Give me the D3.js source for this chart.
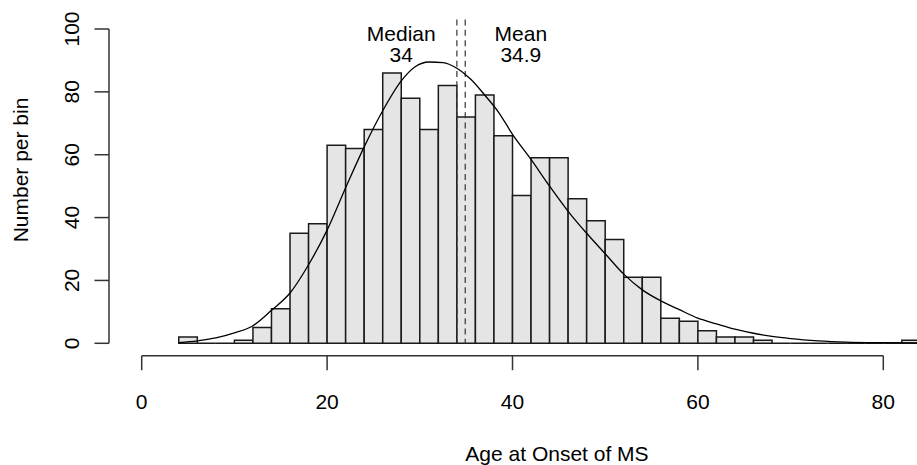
<!DOCTYPE html>
<html>
<head>
<meta charset="utf-8">
<script src="https://cdn.jsdelivr.net/npm/d3@7"></script>
<style>
  html, body { margin: 0; padding: 0; background: #fff; }
  svg text { font-family: "Liberation Sans", Arial, Helvetica, sans-serif; fill: #000; }
</style>
</head>
<body>
<svg id="chart" width="917" height="465"></svg>
<script>
// Histogram of age at onset of MS: bins of width 2 years, starting at 4
const binStarts = d3.range(4, 84, 2);
const binWidth = 2;
const counts = [2, 0, 0, 1, 5, 11, 35, 38, 63, 62, 68, 86, 78, 68, 82, 72, 79, 66, 47, 59,
                59, 46, 39, 33, 21, 21, 8, 7, 4, 2, 2, 1, 0, 0, 0, 0, 0, 0, 0, 1];

// Smoothed density curve, scaled to counts per bin
const densX = [4, 6, 8, 10, 12, 14, 16, 18, 20, 22, 24, 26, 28, 29.5, 31, 32.5, 34, 35.5, 37, 38.5,
               40, 42, 44, 46, 48, 50, 52, 54, 56, 58, 60, 62, 64, 66, 68, 70, 73, 76, 80, 84, 86];
const densY = [0.2, 0.8, 1.7, 3.3, 5.6, 10.5, 16, 25, 36, 49.5, 62.5, 74, 83.5, 88, 89.5, 89.3, 87.5, 84, 79, 73.5,
               66.5, 58.5, 50, 42, 35, 28.5, 22, 17, 13.5, 10.7, 8, 6.2, 4.5, 3.2, 2.2, 1.5, 0.8, 0.4, 0.2, 0.1, 0.1];

const medianAge = 34;
const meanAge = 34.9;

const xTicks = [0, 20, 40, 60, 80];
const yTicks = [0, 20, 40, 60, 80, 100];

const xTitle = "Age at Onset of MS";
const yTitle = "Number per bin";

const svg = d3.select("#chart");
const x = d3.scaleLinear().domain([0, 80]).range([141.7, 883.3]);
const y = d3.scaleLinear().domain([0, 100]).range([343.3, 29]);

const fontSize = 21;

// Bars (zero-count bins still draw their base line)
svg.append("g")
  .selectAll("path")
  .data(binStarts.map((b, i) => ({ x0: b, x1: b + binWidth, n: counts[i] })))
  .join("path")
  .attr("d", d => {
    const p = d3.path();
    p.moveTo(x(d.x0), y(0));
    p.lineTo(x(d.x0), y(d.n));
    p.lineTo(x(d.x1), y(d.n));
    p.lineTo(x(d.x1), y(0));
    p.closePath();
    return p.toString();
  })
  .attr("fill", "#e5e5e5")
  .attr("stroke", "#1a1a1a")
  .attr("stroke-width", 1.5);

// Median and mean reference lines
svg.append("g")
  .selectAll("line")
  .data([medianAge, meanAge])
  .join("line")
  .attr("x1", d => x(d)).attr("x2", d => x(d))
  .attr("y1", y(103)).attr("y2", y(0))
  .attr("stroke", "#333")
  .attr("stroke-width", 1.2)
  .attr("stroke-dasharray", "6,4.3");

// Density curve
const curve = d3.line()
  .x((d, i) => x(densX[i]))
  .y(d => y(d))
  .curve(d3.curveMonotoneX);
svg.append("path")
  .attr("d", curve(densY))
  .attr("fill", "none")
  .attr("stroke", "#000")
  .attr("stroke-width", 1.3);

// Labels for median and mean
const stats = [
  { label: "Median", value: medianAge, text: String(medianAge), at: medianAge - 6 },
  { label: "Mean", value: meanAge, text: meanAge.toFixed(1), at: meanAge + 6 }
];
const statG = svg.append("g").attr("font-size", fontSize).attr("text-anchor", "middle");
stats.forEach(s => {
  statG.append("text").attr("x", x(s.at)).attr("y", 41).text(s.label);
  statG.append("text").attr("x", x(s.at)).attr("y", 62.3).text(s.text);
});

// X axis
const xAxis = svg.append("g").attr("transform", "translate(0,355.7)");
xAxis.append("line")
  .attr("x1", x(xTicks[0])).attr("x2", x(xTicks[xTicks.length - 1]))
  .attr("stroke", "#333").attr("stroke-width", 1.5);
xAxis.selectAll("line.tick")
  .data(xTicks).join("line").attr("class", "tick")
  .attr("x1", d => x(d)).attr("x2", d => x(d))
  .attr("y1", 0).attr("y2", 14.5)
  .attr("stroke", "#333").attr("stroke-width", 1.5);
xAxis.selectAll("text")
  .data(xTicks).join("text")
  .attr("x", d => x(d)).attr("y", 53.5)
  .attr("text-anchor", "middle").attr("font-size", fontSize)
  .text(d => d);

// Y axis
const yAxis = svg.append("g").attr("transform", "translate(109,0)");
yAxis.append("line")
  .attr("y1", y(yTicks[0])).attr("y2", y(yTicks[yTicks.length - 1]))
  .attr("stroke", "#333").attr("stroke-width", 1.5);
yAxis.selectAll("line.tick")
  .data(yTicks).join("line").attr("class", "tick")
  .attr("y1", d => y(d)).attr("y2", d => y(d))
  .attr("x1", 0).attr("x2", -14.5)
  .attr("stroke", "#333").attr("stroke-width", 1.5);
yAxis.selectAll("text")
  .data(yTicks).join("text")
  .attr("transform", d => `translate(-30,${y(d)}) rotate(-90)`)
  .attr("text-anchor", "middle").attr("font-size", fontSize)
  .text(d => d);

// Axis titles
svg.append("text")
  .attr("x", 557).attr("y", 461)
  .attr("text-anchor", "middle").attr("font-size", fontSize)
  .text(xTitle);
svg.append("text")
  .attr("transform", "translate(28,170) rotate(-90)")
  .attr("text-anchor", "middle").attr("font-size", fontSize)
  .text(yTitle);
</script>
</body>
</html>
